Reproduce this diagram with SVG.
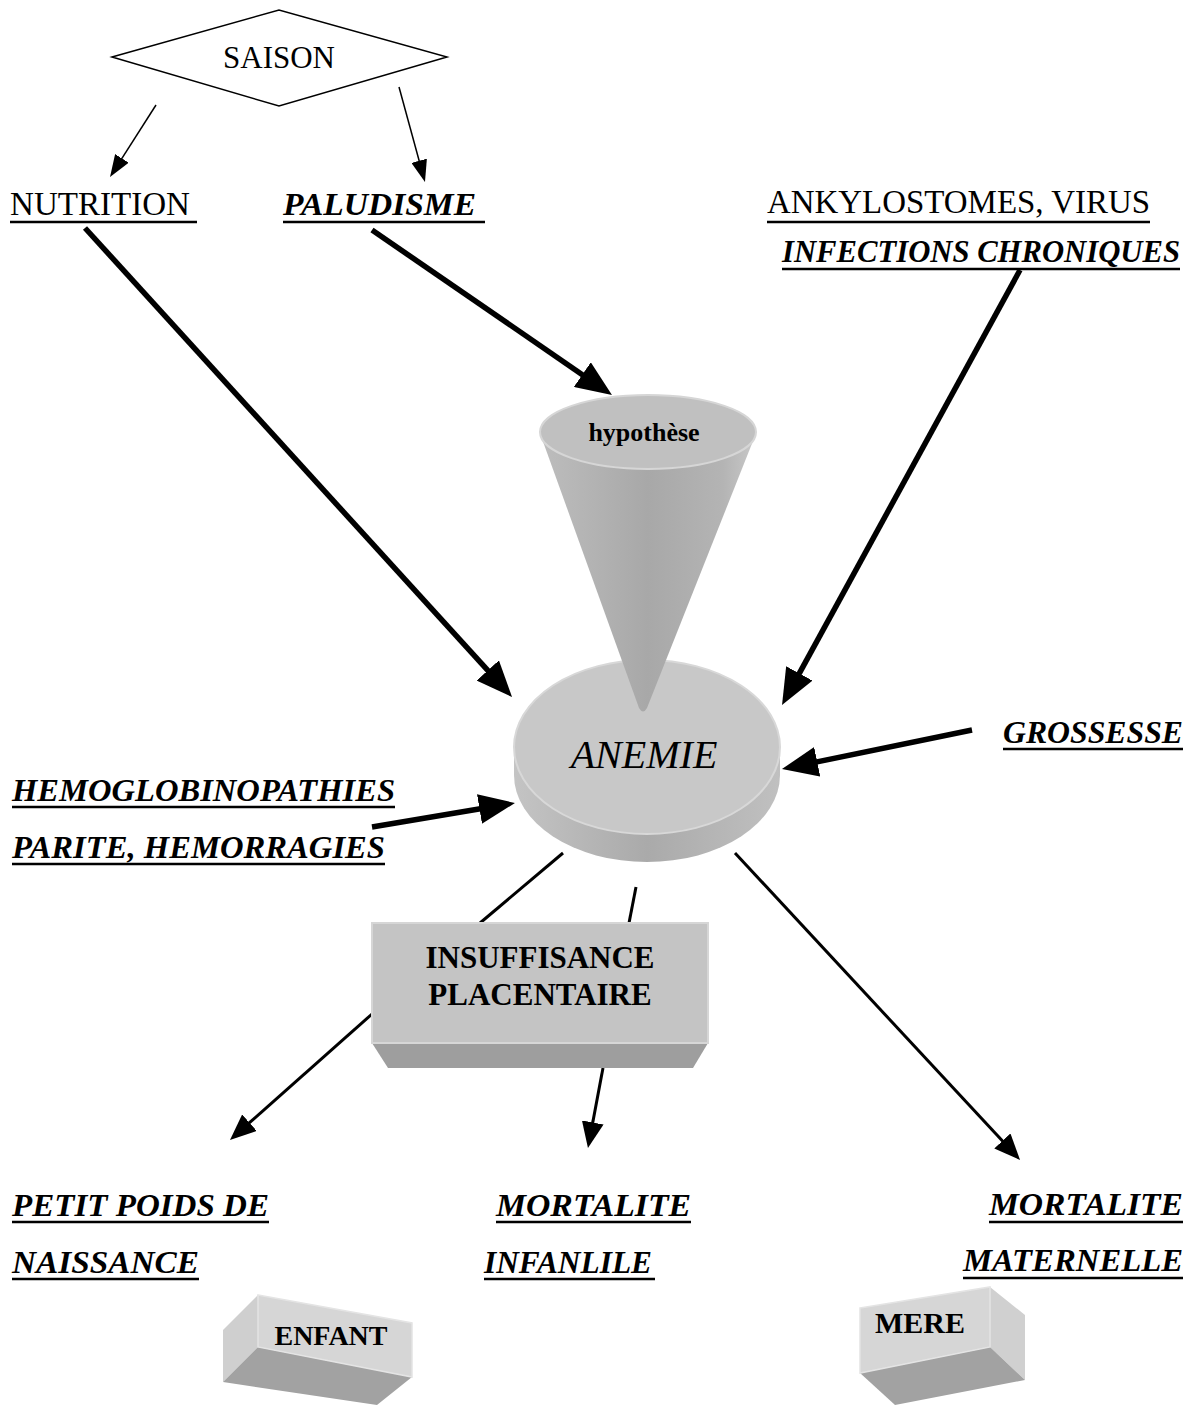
<svg xmlns="http://www.w3.org/2000/svg" width="1197" height="1407" viewBox="0 0 1197 1407">
<style>
text{font-family:"Liberation Serif","Times New Roman",serif;fill:#000}
.reg{font-size:33px}
.bi{font-size:32px;font-weight:bold;font-style:italic}
.b{font-weight:bold}
.ul{stroke:#000;stroke-width:2.5}
.big{stroke:#000;stroke-width:5.5;fill:none;marker-end:url(#hBig)}
.mid{stroke:#000;stroke-width:3;fill:none;marker-end:url(#hMid)}
.thin{stroke:#000;stroke-width:1.5;fill:none;marker-end:url(#hSmall)}
.plain{stroke:#000;stroke-width:3;fill:none}
</style>
<defs>
<marker id="hBig" markerUnits="userSpaceOnUse" markerWidth="36" markerHeight="30" refX="4" refY="15" orient="auto"><path d="M0,0 L36,15 L0,30 Z" fill="#000"/></marker>
<marker id="hMid" markerUnits="userSpaceOnUse" markerWidth="26" markerHeight="22" refX="3" refY="11" orient="auto"><path d="M0,0 L26,11 L0,22 Z" fill="#000"/></marker>
<marker id="hSmall" markerUnits="userSpaceOnUse" markerWidth="22" markerHeight="16" refX="2" refY="8" orient="auto"><path d="M0,0 L22,8 L0,16 Z" fill="#000"/></marker>
<linearGradient id="coneG" x1="0" y1="0" x2="1" y2="0">
<stop offset="0" stop-color="#bdbdbd"/><stop offset="0.5" stop-color="#a8a8a8"/><stop offset="0.85" stop-color="#b4b4b4"/><stop offset="1" stop-color="#c8c8c8"/>
</linearGradient>
<linearGradient id="sideG" x1="0" y1="0" x2="1" y2="0">
<stop offset="0" stop-color="#c4c4c4"/><stop offset="0.5" stop-color="#aaaaaa"/><stop offset="1" stop-color="#c0c0c0"/>
</linearGradient>
</defs>
<rect width="1197" height="1407" fill="#fff"/>

<g id="connectors">
<line class="thin" x1="156" y1="105" x2="120.8" y2="160.1"/>
<line class="thin" x1="399" y1="87" x2="419.7" y2="162.7"/>
<line class="big" x1="85" y1="228" x2="490.5" y2="673.4"/>
<line class="big" x1="372" y1="230" x2="585.6" y2="376.9"/>
<line class="big" x1="1020" y1="270" x2="797.4" y2="676.9"/>
<line class="big" x1="972" y1="730" x2="813.3" y2="762.6"/>
<line class="big" x1="372" y1="827" x2="483.4" y2="808.3"/>
<line class="plain" x1="563" y1="853" x2="480" y2="923"/>
<line class="plain" x1="636" y1="887" x2="629" y2="923"/>
<line class="mid" x1="372" y1="1014" x2="247.2" y2="1124.7"/>
<line class="mid" x1="603" y1="1068" x2="592.2" y2="1125.4"/>
<line class="mid" x1="735" y1="853" x2="1004.4" y2="1143.1"/>
</g>

<g id="saison">
<polygon points="112,57 279,10 447,57 279,106" fill="#fff" stroke="#000" stroke-width="1.5"/>
<text x="279" y="68" font-size="31" text-anchor="middle">SAISON</text>
</g>

<g id="nutrition">
<text class="reg" x="10" y="215" textLength="180" lengthAdjust="spacingAndGlyphs">NUTRITION</text>
<line class="ul" x1="10" y1="222" x2="197" y2="222"/>
</g>

<g id="paludisme">
<text class="bi" x="283" y="215" textLength="193" lengthAdjust="spacingAndGlyphs">PALUDISME</text>
<line class="ul" x1="283" y1="222" x2="485" y2="222"/>
</g>

<g id="ankylostomes">
<text class="reg" x="767" y="213" textLength="383" lengthAdjust="spacingAndGlyphs">ANKYLOSTOMES, VIRUS</text>
<line class="ul" x1="767" y1="222" x2="1150" y2="222"/>
</g>

<g id="infections">
<text class="bi" x="782" y="262" textLength="398" lengthAdjust="spacingAndGlyphs">INFECTIONS CHRONIQUES</text>
<line class="ul" x1="782" y1="269" x2="1180" y2="269"/>
</g>

<g id="anemie">
<path d="M514,747 L514,775 A133,87 0 0 0 780,775 L780,747 Z" fill="url(#sideG)"/>
<ellipse cx="647" cy="747" rx="133" ry="87" fill="#c8c8c8" stroke="#d8d8d8" stroke-width="2"/>
<text x="644" y="768" font-size="40" font-style="italic" text-anchor="middle">ANEMIE</text>
</g>

<g id="hypothese">
<path d="M541,436 L639,708 Q643,715 647,708 L755,436 Z" fill="url(#coneG)"/>
<ellipse cx="648" cy="432" rx="108" ry="37" fill="#c0c0c0" stroke="#d6d6d6" stroke-width="2"/>
<text class="b" x="644" y="441" font-size="26" text-anchor="middle">hypothèse</text>
</g>

<g id="grossesse">
<text class="bi" x="1003" y="743" textLength="180" lengthAdjust="spacingAndGlyphs">GROSSESSE</text>
<line class="ul" x1="1003" y1="749" x2="1183" y2="749"/>
</g>

<g id="hemoglobinopathies">
<text class="bi" x="12" y="801" textLength="383" lengthAdjust="spacingAndGlyphs">HEMOGLOBINOPATHIES</text>
<line class="ul" x1="12" y1="807" x2="395" y2="807"/>
<text class="bi" x="12" y="858" textLength="373" lengthAdjust="spacingAndGlyphs">PARITE, HEMORRAGIES</text>
<line class="ul" x1="12" y1="864" x2="385" y2="864"/>
</g>

<g id="insuffisance">
<polygon points="372,1043 708,1043 693,1068 388,1068" fill="#9e9e9e"/>
<rect x="372" y="923" width="336" height="120" fill="#c4c4c4" stroke="#d6d6d6" stroke-width="2"/>
<text class="b" x="540" y="968" font-size="31" text-anchor="middle">INSUFFISANCE</text>
<text class="b" x="540" y="1005" font-size="31" text-anchor="middle">PLACENTAIRE</text>
</g>

<g id="petit-poids">
<text class="bi" x="12" y="1216" textLength="257" lengthAdjust="spacingAndGlyphs">PETIT POIDS DE</text>
<line class="ul" x1="12" y1="1222" x2="269" y2="1222"/>
<text class="bi" x="12" y="1273" textLength="187" lengthAdjust="spacingAndGlyphs">NAISSANCE</text>
<line class="ul" x1="12" y1="1279" x2="199" y2="1279"/>
</g>

<g id="mortalite-infantile">
<text class="bi" x="496" y="1216" textLength="195" lengthAdjust="spacingAndGlyphs">MORTALITE</text>
<line class="ul" x1="496" y1="1222" x2="691" y2="1222"/>
<text class="bi" x="484" y="1273" textLength="168" lengthAdjust="spacingAndGlyphs">INFANLILE</text>
<line class="ul" x1="484" y1="1279" x2="655" y2="1279"/>
</g>

<g id="mortalite-maternelle">
<text class="bi" x="989" y="1215" textLength="194" lengthAdjust="spacingAndGlyphs">MORTALITE</text>
<line class="ul" x1="989" y1="1222" x2="1183" y2="1222"/>
<text class="bi" x="963" y="1271" textLength="220" lengthAdjust="spacingAndGlyphs">MATERNELLE</text>
<line class="ul" x1="963" y1="1278" x2="1183" y2="1278"/>
</g>

<g id="enfant">
<polygon points="223,1330 258,1295 258,1347 223,1382" fill="#cfcfcf"/>
<polygon points="258,1347 412,1377 377,1405 223,1382" fill="#a2a2a2"/>
<polygon points="258,1295 412,1323 412,1377 258,1347" fill="#d6d6d6" stroke="#e4e4e4" stroke-width="1.5"/>
<text class="b" x="331" y="1345" font-size="28" text-anchor="middle">ENFANT</text>
</g>

<g id="mere">
<polygon points="990,1287 1025,1315 1025,1380 990,1347" fill="#d0d0d0"/>
<polygon points="860,1373 990,1347 1025,1380 895,1405" fill="#a2a2a2"/>
<polygon points="860,1308 990,1287 990,1347 860,1373" fill="#d6d6d6" stroke="#e4e4e4" stroke-width="1.5"/>
<text class="b" x="920" y="1333" font-size="30" text-anchor="middle">MERE</text>
</g>
</svg>
